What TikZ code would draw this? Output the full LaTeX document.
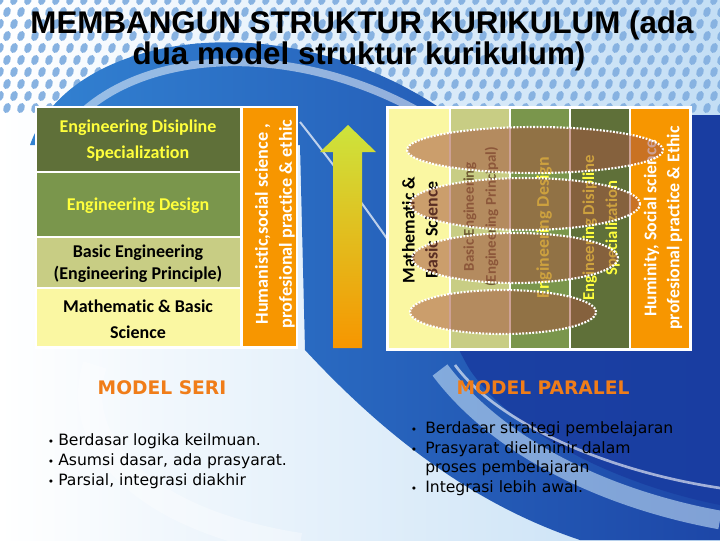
\documentclass[tikz,border=0pt]{standalone}
\usepackage{fontspec}
\setmainfont{Liberation Sans}
\newfontfamily\calfont[Ligatures={NoCommon}]{Carlito}
\newfontfamily\bulfont{DejaVu Sans}
\newfontfamily\headfont{DejaVu Sans}
\usetikzlibrary{shapes.geometric}
\definecolor{dolive}{RGB}{95,112,57}
\definecolor{mgreen}{RGB}{122,150,76}
\definecolor{lolive}{RGB}{200,205,132}
\definecolor{pyellow}{RGB}{250,247,162}
\definecolor{orng}{RGB}{247,150,0}
\definecolor{txtyel}{RGB}{255,255,60}
\definecolor{ellfill}{RGB}{165,85,65}
\definecolor{mblue}{RGB}{50,130,210}
\definecolor{dblue}{RGB}{25,60,160}
\definecolor{lblue}{RGB}{195,222,245}
\definecolor{dotblue}{RGB}{135,178,225}
\definecolor{arrtop}{RGB}{205,228,60}
\definecolor{arrbot}{RGB}{247,150,0}
\definecolor{headorg}{RGB}{240,125,25}
\definecolor{coltwo}{RGB}{110,90,50}
\begin{document}
\begin{tikzpicture}[x=0.75pt,y=-0.75pt,
 ltxt/.style={font=\calfont\bfseries\fontsize{13.5}{19.5}\selectfont, align=center, inner sep=0},
 rtxt/.style={font=\calfont\bfseries\fontsize{13.4}{17.3}\selectfont, align=center, inner sep=0, rotate=90},
 oval/.style={ellipse, fill=ellfill, fill opacity=0.55, draw=white, draw opacity=1, line width=1.6pt, dash pattern=on 1.4pt off 1.1pt, inner sep=0},
 bul/.style={font=\bulfont\fontsize{11.7}{15}\selectfont, anchor=base west, inner sep=0},
 head/.style={font=\headfont\bfseries\fontsize{14}{16}\selectfont, inner sep=0, text=headorg},
 ttl/.style={font=\bfseries\fontsize{23.5}{28}\selectfont, anchor=base, inner sep=0}]
\useasboundingbox (0,0) rectangle (720,540);
% background
\shade[left color=white, right color=lblue] (0,0) rectangle (720,540);
\foreach \i in {0,...,52}{\foreach \j in {0,...,9}{
  \fill[dotblue] ({\i*14+mod(\j,2)*7},{\j*12}) ellipse [x radius=3.6, y radius=5.2, rotate=-20];}}
\shade[left color=mblue, right color=dblue!85!mblue]
  (30,145) .. controls (70,30) and (290,0) .. (450,115) -- (720,115) -- (720,540) -- (580,540)
  .. controls (460,500) and (370,420) .. (305,350) -- (300,145) -- cycle;
\fill[dblue, opacity=0.85]
  (440,115) -- (720,115) -- (720,505) .. controls (620,485) and (515,435) .. (470,370)
  .. controls (440,320) and (420,240) .. (395,140) -- cycle;
\draw[white, opacity=0.5, line width=6] (70,125) .. controls (140,45) and (300,40) .. (430,118);
\draw[white, opacity=0.7, line width=1.5] (300,122) .. controls (330,160) and (360,200) .. (388,240);
\draw[lblue, opacity=0.6, line width=14] (720,520) .. controls (610,500) and (500,450) .. (440,370);
\draw[white, opacity=0.6, line width=2] (720,488) .. controls (600,470) and (495,420) .. (455,365);
\draw[white, opacity=0.35, line width=18] (95,365) .. controls (70,440) and (140,520) .. (300,545);
% title
\node[ttl] (t1) at (362,33) {MEMBANGUN STRUKTUR KURIKULUM (ada};
\node[ttl] (t2) at (359,64) {dua model struktur kurikulum)};
% left stack
\fill[white] (35,106) rectangle (298,349);
\fill[dolive] (37,108) rectangle (240,171);
\fill[mgreen] (37,173) rectangle (240,236);
\fill[lolive] (37,238) rectangle (240,287);
\fill[pyellow] (37,289) rectangle (240,346);
\fill[orng] (243,108) rectangle (296,346);
\node[ltxt, text=txtyel] (l4) at (138,141) {Engineering Disipline\\Specialization};
\node[ltxt, text=txtyel] (l3) at (138,206) {Engineering Design};
\node[ltxt, font=\calfont\bfseries\fontsize{13.5}{16.5}\selectfont] (l2) at (138,264) {Basic Engineering\\(Engineering Principle)};
\node[ltxt] (l1) at (138,319) {Mathematic \& Basic\\Science};
\node[ltxt, text=white, rotate=90, font=\calfont\bfseries\fontsize{13.7}{18}\selectfont] (l5) at (275,224) {Humanistic,social science ,\\profesional practice \& ethic};
% arrow
\shade[top color=arrtop, bottom color=arrbot] (333,348) -- (333,152) -- (320,152) -- (348,125)
  -- (376,152) -- (362,152) -- (362,348) -- cycle;
% right panel
\fill[white] (386,106) rectangle (692,351);
\fill[pyellow] (389,109) rectangle (449,348);
\fill[lolive] (451,109) rectangle (509,348);
\fill[mgreen] (511,109) rectangle (569,348);
\fill[dolive] (571,109) rectangle (629,348);
\fill[orng] (631,109) rectangle (689,348);
\node[rtxt] (c1) at (420,230) {Mathematic \&\\Basic Science};
\node[rtxt, text=coltwo, font=\calfont\bfseries\fontsize{11.2}{16.5}\selectfont] (c2) at (481,217) {Basic Engineering\\(Engineering Principal)};
\node[rtxt, text=txtyel] (c3) at (544,228) {Engineering Design};
\node[rtxt, text=txtyel, font=\calfont\bfseries\fontsize{12.5}{17.3}\selectfont] (c4) at (601,228) {Engineering Disipline\\Specialization};
\node[rtxt, text=white] (c5) at (663,228) {Huminity, Social science\\profesional practice \& Ethic};
\node[oval, minimum width=256*0.75pt, minimum height=46*0.75pt] (e1) at (535,150) {};
\node[oval, minimum width=230*0.75pt, minimum height=52*0.75pt] (e2) at (525,204) {};
\node[oval, minimum width=206*0.75pt, minimum height=50*0.75pt] (e3) at (515,258) {};
\node[oval, minimum width=186*0.75pt, minimum height=44*0.75pt] (e4) at (503,312) {};
% headings
\node[head] (seri) at (162,388) {MODEL SERI};
\node[head] (paralel) at (543,388) {MODEL PARALEL};
% bullets
\node[bul] (b1) at (58,445) {\llap{\fontsize{8}{8}\selectfont•\hspace{3pt}}Berdasar logika keilmuan.};
\node[bul] (b2) at (58,465) {\llap{\fontsize{8}{8}\selectfont•\hspace{3pt}}Asumsi dasar, ada prasyarat.};
\node[bul] (b3) at (58,485) {\llap{\fontsize{8}{8}\selectfont•\hspace{3pt}}Parsial, integrasi diakhir};
\node[bul] (p1) at (425,433) {\llap{\fontsize{8}{8}\selectfont•\hspace{6pt}}Berdasar strategi pembelajaran};
\node[bul] (p2) at (425,453) {\llap{\fontsize{8}{8}\selectfont•\hspace{6pt}}Prasyarat dieliminir dalam};
\node[bul] (p3) at (425,472) {proses pembelajaran};
\node[bul] (p4) at (425,492) {\llap{\fontsize{8}{8}\selectfont•\hspace{6pt}}Integrasi lebih awal.};
\end{tikzpicture}
\end{document}
